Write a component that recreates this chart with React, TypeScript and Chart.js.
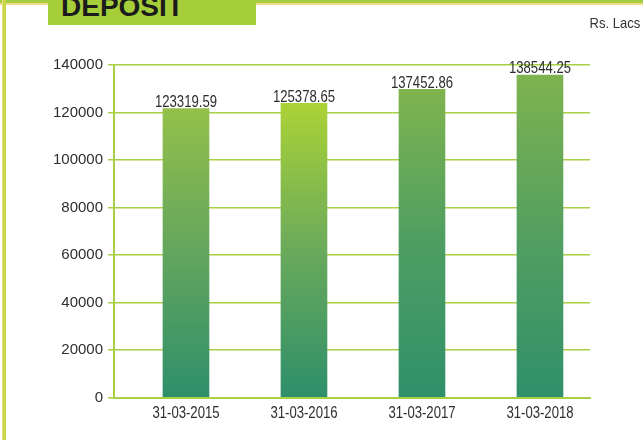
import React, { useEffect, useRef } from 'react';
import { Chart, registerables } from 'chart.js';

Chart.register(...registerables);

// ---- data ----
const categories = ['31-03-2015', '31-03-2016', '31-03-2017', '31-03-2018'];
// bar heights as drawn in the picture
const barValues = [121600, 123900, 129800, 135800];
// numbers printed above the bars
const valueLabels = ['123319.59', '125378.65', '137452.86', '138544.25'];
const yTickValues = [0, 20000, 40000, 60000, 80000, 100000, 120000, 140000];

// ---- styles ----
const barTopColors = ['#93c04a', '#abd236', '#7fb44e', '#7eb34f'];
const barMidColors = ['#63a55e', '#6aaa5b', '#4e9e62', '#539f60'];
const barBottomColors = ['#2e8f6a', '#2e8f6a', '#30906a', '#30906a'];
const LIME = '#a8cf45';
const TEXT = '#2e2e2e';
const FONT = '"Liberation Sans", Arial, Helvetica, sans-serif';

const labelsPlugin = {
  id: 'condensedLabels',
  afterDatasetsDraw(chart: any) {
    const ctx = chart.ctx;
    const meta = chart.getDatasetMeta(0);
    const xs = chart.scales.x;
    ctx.save();
    ctx.fillStyle = TEXT;
    ctx.textAlign = 'center';
    ctx.textBaseline = 'alphabetic';
    // value labels above bars
    ctx.font = '16px ' + FONT;
    meta.data.forEach((bar: any, i: number) => {
      ctx.save();
      ctx.translate(bar.x, bar.y - 1.5);
      ctx.scale(0.82, 1);
      ctx.fillText(valueLabels[i], 0, 0);
      ctx.restore();
    });
    // category labels under the axis
    ctx.font = '16px ' + FONT;
    categories.forEach((c, i) => {
      ctx.save();
      ctx.translate(xs.getPixelForValue(i), chart.chartArea.bottom + 20);
      ctx.scale(0.82, 1);
      ctx.fillText(c, 0, 0);
      ctx.restore();
    });
    ctx.restore();
  },
};

export default function App() {
  const canvasRef = useRef<HTMLCanvasElement | null>(null);

  useEffect(() => {
    const canvas = canvasRef.current;
    if (!canvas) return;
    const chart = new Chart(canvas, {
      type: 'bar',
      data: {
        datasets: [
          {
            data: categories.map((_, i) => ({ x: i, y: barValues[i] })),
            barThickness: 46,
            borderWidth: 0,
            backgroundColor: (c: any) => {
              const ch = c.chart;
              const i = c.dataIndex;
              if (!ch.chartArea || i == null) return barMidColors[0];
              const ys = ch.scales.y;
              const top = ys.getPixelForValue(barValues[i]);
              const bottom = ys.getPixelForValue(0);
              const g = ch.ctx.createLinearGradient(0, top, 0, bottom);
              g.addColorStop(0, barTopColors[i]);
              g.addColorStop(0.5, barMidColors[i]);
              g.addColorStop(1, barBottomColors[i]);
              return g;
            },
          },
        ],
      },
      options: {
        responsive: false,
        maintainAspectRatio: false,
        devicePixelRatio: 1,
        animation: false,
        layout: { padding: { left: 0, right: 53, top: 65, bottom: 12.5 } },
        plugins: { legend: { display: false }, tooltip: { enabled: false } },
        scales: {
          x: {
            type: 'linear',
            offset: false,
            min: -0.61,
            max: 3.424,
            afterBuildTicks: (s: any) => {
              s.ticks = categories.map((_, i) => ({ value: i }));
            },
            afterFit: (s: any) => {
              s.height = 30;
            },
            ticks: { display: false },
            grid: { display: false, drawTicks: false, offset: false },
            border: { color: LIME, width: 2 },
          },
          y: {
            min: 0,
            max: 140000,
            afterBuildTicks: (s: any) => {
              s.ticks = yTickValues.map((v) => ({ value: v }));
            },
            afterFit: (s: any) => {
              s.width = 114;
            },
            ticks: {
              callback: (v: any) => String(v),
              font: { family: FONT, size: 15 },
              color: TEXT,
              padding: 5,
            },
            grid: { color: LIME, lineWidth: 1.5, tickLength: 6, drawTicks: true },
            border: { color: LIME, width: 2 },
          },
        },
      } as any,
      plugins: [labelsPlugin],
    });
    return () => chart.destroy();
  }, []);

  return (
    <div
      style={{
        position: 'absolute',
        left: 0,
        top: 0,
        width: 643,
        height: 440,
        overflow: 'hidden',
        background: '#ffffff',
      }}
    >
      <canvas
        ref={canvasRef}
        width={643}
        height={440}
        style={{ position: 'absolute', left: 0, top: 0, width: 643, height: 440, display: 'block' }}
      />
      <div style={{ position: 'absolute', left: 0, top: 0, width: 643, height: 3, background: '#a9cd40' }} />
      <div style={{ position: 'absolute', left: 0, top: 3, width: 643, height: 1.5, background: '#eedd86' }} />
      <div style={{ position: 'absolute', left: 2, top: 0, width: 1, height: 440, background: '#eadf80' }} />
      <div style={{ position: 'absolute', left: 3, top: 0, width: 3, height: 440, background: '#c5d646' }} />
      <div
        style={{
          position: 'absolute',
          left: 48,
          top: 0,
          width: 208,
          height: 25,
          background: '#a6ce39',
          overflow: 'hidden',
        }}
      >
        <span
          style={{
            position: 'absolute',
            left: 13,
            top: -7,
            fontFamily: FONT,
            fontWeight: 700,
            fontSize: 28,
            lineHeight: '28px',
            color: '#1b1b1b',
            whiteSpace: 'nowrap',
          }}
        >
          DEPOSIT
        </span>
      </div>
      <div
        style={{
          position: 'absolute',
          right: 3,
          top: 15,
          fontFamily: FONT,
          fontSize: 15,
          lineHeight: '15px',
          color: '#333',
          whiteSpace: 'nowrap',
          transform: 'scaleX(0.87)',
          transformOrigin: 'right center',
        }}
      >
        Rs. Lacs
      </div>
    </div>
  );
}
